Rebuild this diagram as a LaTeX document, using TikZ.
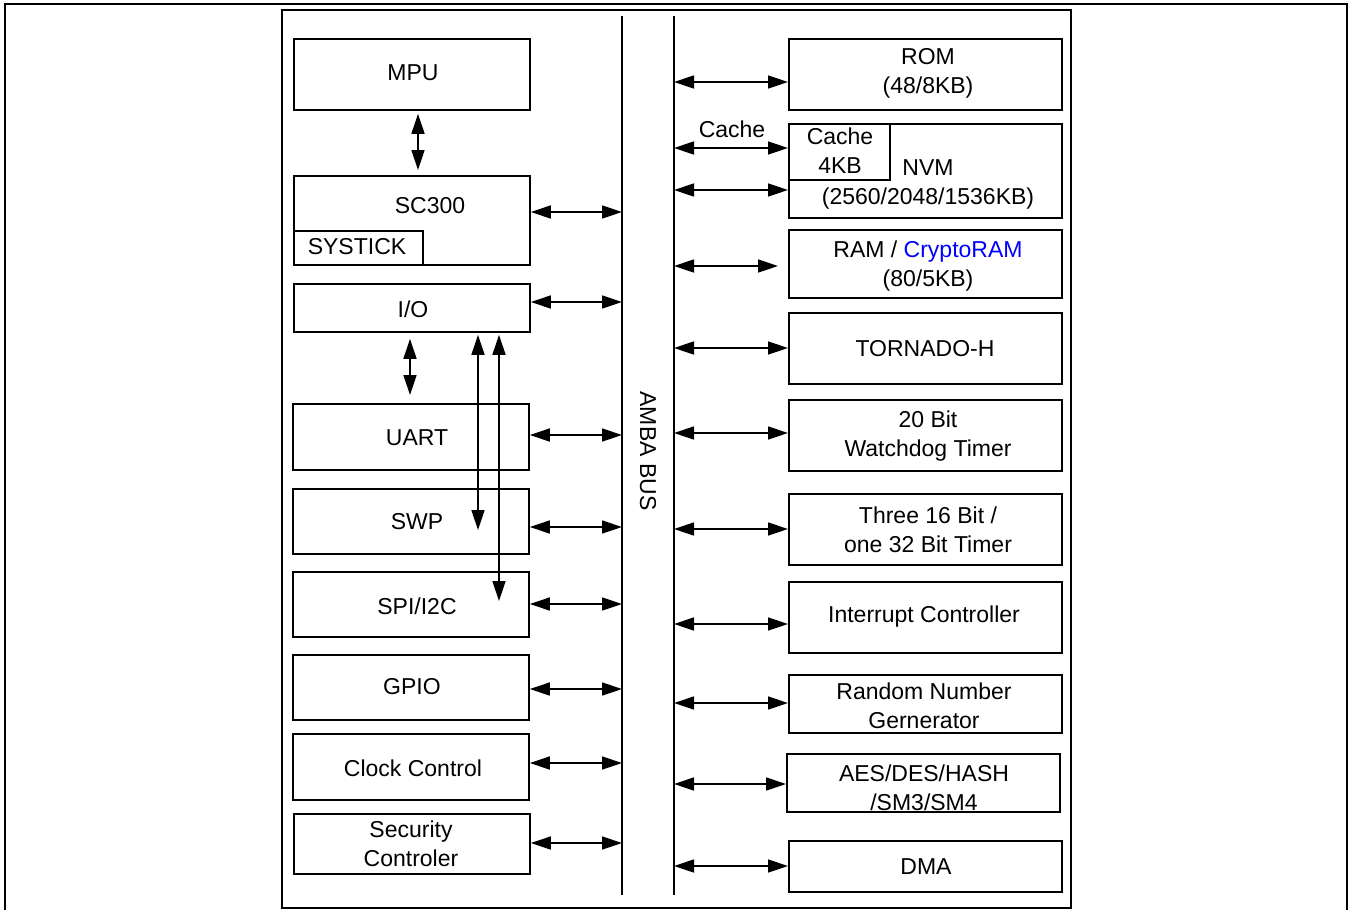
\documentclass[tikz,border=0pt]{standalone}
\usepackage{fontspec}
\setmainfont{Liberation Sans}
\usetikzlibrary{arrows.meta}
\begin{document}
\begin{tikzpicture}[x=1pt,y=-1pt,
  box/.style={draw,line width=1.8pt,inner sep=0pt,anchor=north west},
  txt/.style={inner sep=0pt,align=center,font=\fontsize{23}{29}\selectfont},
  link/.style={line width=1.5pt,{Triangle[length=20pt,width=13pt]}-{Triangle[length=20pt,width=13pt]}},
  frame/.style={line width=2.6pt},
  bus/.style={line width=2pt},
]
\useasboundingbox (0,0) rectangle (1354,910);
% outer and inner frames
\draw[frame] (5,910) -- (5,4) -- (1347,4) -- (1347,910);
\draw[line width=2pt] (282,10) rectangle (1071,908);
% bus lines
\coordinate (busLt) at (622,16); \coordinate (busLb) at (622,895);
\coordinate (busRt) at (674,16); \coordinate (busRb) at (674,895);
\draw[bus] (busLt) -- (busLb);
\draw[bus] (busRt) -- (busRb);
\node[txt,rotate=-90] (amba) at (648,451) {AMBA BUS};

% left boxes
\node[box,minimum width=236pt,minimum height=71pt] (mpu) at (293,38) {};
\node[box,minimum width=236pt,minimum height=89pt] (sc300) at (293,175) {};
\node[box,minimum width=129pt,minimum height=34pt] (systick) at (293,230) {};
\node[box,minimum width=236pt,minimum height=48pt] (io) at (293,283) {};
\node[box,minimum width=236pt,minimum height=66pt] (uart) at (292,403) {};
\node[box,minimum width=236pt,minimum height=65pt] (swp) at (292,488) {};
\node[box,minimum width=236pt,minimum height=65pt] (spi) at (292,571) {};
\node[box,minimum width=236pt,minimum height=65pt] (gpio) at (292,654) {};
\node[box,minimum width=236pt,minimum height=66pt] (clk) at (292,733) {};
\node[box,minimum width=236pt,minimum height=60pt] (sec) at (293,813) {};

\node[txt] (mpu-t) at (413,73) {MPU};
\node[txt] (sc300-t) at (430,206) {SC300};
\node[txt] (systick-t) at (357,247) {SYSTICK};
\node[txt] (io-t) at (413,309) {I/O};
\node[txt] (uart-t) at (417,438) {UART};
\node[txt] (swp-t) at (417,522) {SWP};
\node[txt] (spi-t) at (417,606) {SPI/I2C};
\node[txt] (gpio-t) at (412,687) {GPIO};
\node[txt] (clk-t) at (413,768) {Clock Control};
\node[txt] (sec-t) at (411,844) {Security\\Controler};

% right boxes
\node[box,minimum width=273pt,minimum height=71pt] (rom) at (788,38) {};
\node[box,minimum width=273pt,minimum height=94pt] (nvm) at (788,123) {};
\node[box,minimum width=101pt,minimum height=56pt] (cache) at (788,123) {};
\node[box,minimum width=273pt,minimum height=68pt] (ram) at (788,229) {};
\node[box,minimum width=273pt,minimum height=71pt] (tor) at (788,312) {};
\node[box,minimum width=273pt,minimum height=71pt] (wdt) at (788,399) {};
\node[box,minimum width=273pt,minimum height=71pt] (tim) at (788,493) {};
\node[box,minimum width=273pt,minimum height=71pt] (irq) at (788,581) {};
\node[box,minimum width=273pt,minimum height=58pt] (rng) at (788,674) {};
\node[box,minimum width=273pt,minimum height=58pt] (aes) at (786,753) {};
\node[box,minimum width=273pt,minimum height=51pt] (dma) at (788,840) {};

\node[txt] (rom-t) at (928,73) {ROM\\(48/8KB)};
\node[txt] (cache-t) at (840,151) {Cache\\4KB};
\node[txt] (nvm-t) at (928,184) {NVM\\(2560/2048/1536KB)};
\node[txt] (ram-t) at (928,266) {RAM / {\color{blue}CryptoRAM}\\(80/5KB)};
\node[txt] (tor-t) at (925,349) {TORNADO-H};
\node[txt] (wdt-t) at (928,436) {20 Bit\\Watchdog Timer};
\node[txt] (tim-t) at (928,530) {Three 16 Bit /\\one 32 Bit Timer};
\node[txt] (irq-t) at (924,617) {Interrupt Controller};
\node[txt] (rng-t) at (924,706) {Random Number\\Gernerator};
\node[txt] (aes-t) at (924,788) {AES/DES/HASH\\/SM3/SM4};
\node[txt] (dma-t) at (926,867) {DMA};
\node[txt] (cachelbl) at (732,129) {Cache};

% bus connection points
\coordinate (l1) at (622,212);
\coordinate (l2) at (622,302);
\coordinate (l3) at (622,435);
\coordinate (l4) at (622,527);
\coordinate (l5) at (622,604);
\coordinate (l6) at (622,689);
\coordinate (l7) at (622,763);
\coordinate (l8) at (622,843);
\coordinate (r1) at (674,82);
\coordinate (r2) at (674,148);
\coordinate (r3) at (674,190);
\coordinate (r4) at (674,266);
\coordinate (r5) at (674,348);
\coordinate (r6) at (674,433);
\coordinate (r7) at (674,529);
\coordinate (r8) at (674,624);
\coordinate (r9) at (674,703);
\coordinate (r10) at (674,784);
\coordinate (r11) at (674,866);

\draw[link] (sc300.east |- l1) -- (l1);
\draw[link] (io.east |- l2) -- (l2);
\draw[link] (uart.east |- l3) -- (l3);
\draw[link] (swp.east |- l4) -- (l4);
\draw[link] (spi.east |- l5) -- (l5);
\draw[link] (gpio.east |- l6) -- (l6);
\draw[link] (clk.east |- l7) -- (l7);
\draw[link] (sec.east |- l8) -- (l8);

\draw[link] (r1) -- (rom.west |- r1);
\draw[link] (r2) -- (cache.west |- r2);
\draw[link] (r3) -- (nvm.west |- r3);
\draw[link,shorten >=10pt] (r4) -- (ram.west |- r4);
\draw[link] (r5) -- (tor.west |- r5);
\draw[link] (r6) -- (wdt.west |- r6);
\draw[link] (r7) -- (tim.west |- r7);
\draw[link] (r8) -- (irq.west |- r8);
\draw[link] (r9) -- (rng.west |- r9);
\draw[link] (r10) -- (aes.west |- r10);
\draw[link] (r11) -- (dma.west |- r11);

% vertical links
\coordinate (m1) at (418,140);
\draw[link,shorten <=3pt,shorten >=5pt] (mpu.south -| m1) -- (sc300.north -| m1);
\coordinate (m2) at (410,360);
\draw[link,shorten <=6pt,shorten >=8pt] (io.south -| m2) -- (uart.north -| m2);
\coordinate (v1) at (478,530);
\draw[link,shorten <=2pt] (io.south -| v1) -- (v1);
\coordinate (v2) at (499,601);
\draw[link,shorten <=2pt] (io.south -| v2) -- (v2);
\end{tikzpicture}
\end{document}
